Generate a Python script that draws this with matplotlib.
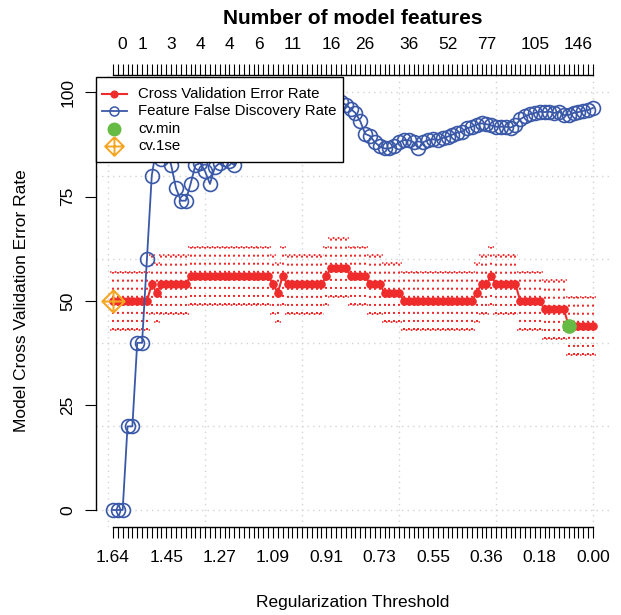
import matplotlib
matplotlib.use("Agg")
import matplotlib.pyplot as plt
import numpy as np
from matplotlib.path import Path
from matplotlib.lines import Line2D
from matplotlib.patches import Rectangle

plt.rcParams['font.family'] = ['Liberation Sans', 'DejaVu Sans']

# ---------------- data ----------------
cv_error = [50, 50, 50, 50, 50, 50, 50, 50, 54, 52,
            54, 54, 54, 54, 54, 54, 56, 56, 56, 56,
            56, 56, 56, 56, 56, 56, 56, 56, 56, 56,
            56, 56, 56, 54, 52, 56, 54, 54, 54, 54,
            54, 54, 54, 54, 56, 58, 58, 58, 58, 56,
            56, 56, 56, 54, 54, 54, 52, 52, 52, 52,
            50, 50, 50, 50, 50, 50, 50, 50, 50, 50,
            50, 50, 50, 50, 50, 52, 54, 54, 56, 54,
            54, 54, 54, 54, 50, 50, 50, 50, 50, 48,
            48, 48, 48, 48, 44, 44, 44, 44, 44, 44]

cv_se = [6.9, 6.9, 6.9, 6.9, 6.9, 6.9, 6.9, 6.9, 7.0, 7.0,
         7.0, 7.0, 7.0, 7.0, 7.0, 7.0, 7.0, 7.0, 7.0, 7.0,
         7.0, 7.0, 7.0, 7.0, 7.0, 7.0, 7.0, 7.0, 7.0, 7.0,
         7.0, 7.0, 7.0, 7.0, 7.0, 7.0, 7.0, 7.0, 7.0, 7.0,
         7.0, 7.0, 7.0, 7.0, 7.0, 7.0, 7.0, 7.0, 7.0, 7.0,
         7.0, 7.0, 7.0, 7.0, 7.0, 7.0, 7.0, 7.0, 7.0, 7.0,
         6.9, 6.9, 6.9, 6.9, 6.9, 6.9, 6.9, 6.9, 6.9, 6.9,
         6.9, 6.9, 6.9, 6.9, 6.9, 7.0, 7.0, 7.0, 7.0, 7.0,
         7.0, 7.0, 7.0, 7.0, 6.9, 6.9, 6.9, 6.9, 6.9, 7.0,
         7.0, 7.0, 7.0, 7.0, 7.0, 7.0, 7.0, 7.0, 7.0, 7.0]

fdr = [0, 0, 0, 20, 20, 40, 40, 60, 80, 87,
       84, 86, 82.5, 77, 74, 74, 78, 82.5, 83, 81,
       78, 82, 83, 84, 83.5, 82.5, 86, 88, 87, 89,
       90, 91, 92, 93, 92, 94, 95, 94, 96, 97,
       96, 97, 98, 97, 98, 99, 98, 97.5, 97, 96,
       95, 93, 90, 89.5, 88, 87, 86.5, 86.5, 87, 88,
       88.5, 88.5, 88, 86.5, 88, 88.5, 88.7, 88.5, 89, 89.3,
       89.8, 90.3, 90.5, 91.3, 91.7, 92.2, 92.5, 92.3, 92, 91.7,
       91.7, 91.7, 91.5, 92, 93.5, 94.2, 94.7, 95, 95.3, 95.2,
       95.3, 95, 95.3, 94.5, 94.5, 95, 95.2, 95.5, 95.7, 96.2]

bottom_label_idx = [1, 12, 23, 34, 45, 56, 67, 78, 89, 100]
bottom_labels = ["1.64", "1.45", "1.27", "1.09", "0.91", "0.73", "0.55", "0.36", "0.18", "0.00"]
top_label_idx = [3, 7, 13, 19, 25, 31, 38, 46, 53, 62, 70, 78, 88, 97]
top_labels = ["0", "1", "3", "4", "4", "6", "11", "16", "26", "36", "52", "77", "105", "146"]
cv_min_idx = 95
cv_1se_idx = 1

legend_labels = ['Cross Validation Error Rate', 'Feature False Discovery Rate', 'cv.min', 'cv.1se']

RED = '#EE2C2C'
BLUE = '#3A58A8'
GREEN = '#66BB44'
ORANGE = '#F5A623'
GRID = '#D3D3D3'

# ---------------- figure ----------------
W, H = 621, 615
fig = plt.figure(figsize=(W / 100, H / 100), dpi=100)
L, R, T, B = 96, 610, 75.3, 526.7
ax = fig.add_axes([L / W, 1 - B / H, (R - L) / W, (B - T) / H])
n = len(cv_error)
x = np.arange(1, n + 1)
cv = np.array(cv_error)
se = np.array(cv_se)
ax.set_xlim(-2.5, 103.5)
ax.set_ylim(-4, 104)

# grid
for gx in [0, 20, 40, 60, 80, 100]:
    ax.axvline(gx, color=GRID, lw=1.0, ls=(0, (1, 3)), zorder=0)
for gy in [0, 20, 40, 60, 80, 100]:
    ax.axhline(gy, color=GRID, lw=1.0, ls=(0, (1, 3)), zorder=0)

# error bars (dotted)
ax.vlines(x, cv - se, cv + se, colors=RED, linestyles=(0, (1, 3)), lw=1.45, zorder=1)
ax.hlines(cv - se, x - 0.6, x + 0.6, colors=RED, linestyles=(0, (1, 2)), lw=1.1, zorder=1)
ax.hlines(cv + se, x - 0.6, x + 0.6, colors=RED, linestyles=(0, (1, 2)), lw=1.1, zorder=1)

ax.plot(x, cv, color=RED, lw=1.5, marker='o', ms=5.2, mfc=RED, mec=RED, zorder=2)
ax.plot(x, fdr, color=BLUE, lw=1.3, marker='o', ms=10, mfc='none', mec=BLUE, mew=1.2, zorder=3)

ax.plot([cv_min_idx], [cv[cv_min_idx - 1]], 'o', color=GREEN, ms=9.5, zorder=4)

diamond_plus = Path([(0, 1), (1, 0), (0, -1), (-1, 0), (0, 1), (-1, 0), (1, 0), (0, -1), (0, 1)],
                    [Path.MOVETO, Path.LINETO, Path.LINETO, Path.LINETO, Path.LINETO,
                     Path.MOVETO, Path.LINETO, Path.MOVETO, Path.LINETO])
ax.plot([cv_1se_idx], [cv[cv_1se_idx - 1]], marker=diamond_plus, ms=16, mfc='none',
        mec=ORANGE, mew=1.5, ls='none', zorder=5)

# axes styling
ax.spines['right'].set_visible(False)
ax.spines['top'].set_visible(False)
ax.spines['left'].set_bounds(0, 100)
ax.spines['bottom'].set_bounds(1, 100)
for s in ['left', 'bottom']:
    ax.spines[s].set_linewidth(1.0)

blabels = [''] * n
for i, lab in zip(bottom_label_idx, bottom_labels):
    blabels[i - 1] = lab
ax.set_xticks(x)
ax.set_xticklabels(blabels, fontsize=12.5)
ax.tick_params(axis='x', length=8, width=0.8, pad=9)

ax.set_yticks([0, 25, 50, 75, 100])
ax.set_yticklabels(['0', '25', '50', '75', '100'], fontsize=12.5, rotation=90, va='center')
ax.tick_params(axis='y', length=8, width=0.8, pad=7)

ax2 = ax.twiny()
ax2.set_xlim(ax.get_xlim())
for s in ['left', 'right', 'bottom']:
    ax2.spines[s].set_visible(False)
ax2.spines['top'].set_bounds(1, 100)
ax2.spines['top'].set_linewidth(1.0)
tlabels = [''] * n
for i, lab in zip(top_label_idx, top_labels):
    tlabels[i - 1] = lab
ax2.set_xticks(x)
ax2.set_xticklabels(tlabels, fontsize=12.5)
ax2.tick_params(axis='x', length=8, width=0.8, pad=8.5)

fig.text((L + R) / 2 / W, 1 - 18 / H, 'Number of model features', fontsize=15,
         fontweight='bold', ha='center', va='center')
fig.text((L + R) / 2 / W, 1 - 603 / H, 'Regularization Threshold', fontsize=12.5,
         ha='center', va='center')
fig.text(22 / W, 1 - (T + B) / 2 / H, 'Model Cross Validation Error Rate', fontsize=12.5,
         ha='center', va='center', rotation=90)

# ---------------- legend (drawn by hand, R style) ----------------
def fx(px):
    return px / W

def fy(py):
    return 1 - py / H

box_l, box_t, box_r, box_b = 96, 77, 343, 162
fig.add_artist(Rectangle((fx(box_l), fy(box_b)), fx(box_r) - fx(box_l), fy(box_t) - fy(box_b),
                         transform=fig.transFigure, facecolor='white', edgecolor='black',
                         lw=1.0, zorder=20))
row_y = [94, 111.3, 128.6, 146]
h0, h1, hm, tx = 102, 127, 114.5, 138
styles = [
    dict(color=RED, lw=1.5, marker='o', ms=4.8, mfc=RED, mec=RED, line=True),
    dict(color=BLUE, lw=1.3, marker='o', ms=6.5, mfc='none', mec=BLUE, mew=1.1, line=True),
    dict(color=GREEN, lw=0, marker='o', ms=9, mfc=GREEN, mec=GREEN, line=False),
    dict(color=ORANGE, lw=0, marker=diamond_plus, ms=13.5, mfc='none', mec=ORANGE, mew=1.4, line=False),
]
for yy, st, lab in zip(row_y, styles, legend_labels):
    st = dict(st)
    has_line = st.pop('line')
    if has_line:
        fig.add_artist(Line2D([fx(h0), fx(h1)], [fy(yy), fy(yy)], color=st['color'], lw=st['lw'],
                              transform=fig.transFigure, zorder=21))
    mk = {k: v for k, v in st.items() if k not in ('lw',)}
    fig.add_artist(Line2D([fx(hm)], [fy(yy)], ls='none', transform=fig.transFigure, zorder=22, **mk))
    fig.text(fx(tx), fy(yy), lab, fontsize=10.8, ha='left', va='center', zorder=23)

fig.savefig('out.png', dpi=100)
